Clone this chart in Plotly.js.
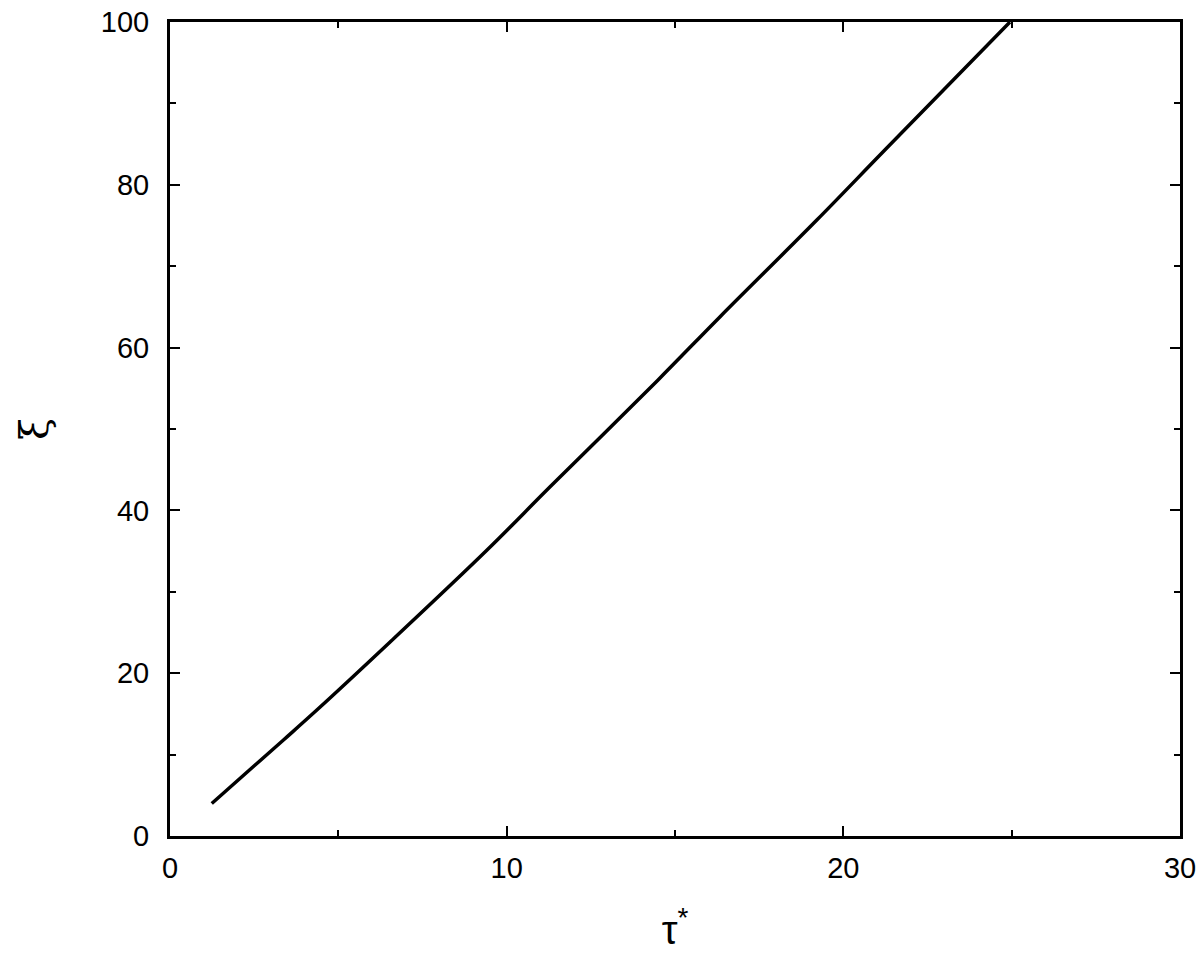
<!DOCTYPE html>
<html>
<head>
<meta charset="utf-8">
<script src="https://cdn.plot.ly/plotly-3.0.1.min.js"></script>
<style>
  html, body { margin: 0; padding: 0; background: #fff; }
  #chart { width: 1200px; height: 965px; }
</style>
</head>
<body>
<div id="chart"></div>
<script>
// values
const tauStar = [1.24, 3.37, 4.37, 6.53, 9.41, 11.29, 14.49, 16.34, 19.22, 21.24, 24.95];
const xi = [4.0, 11.8, 15.5, 23.8, 35.1, 42.9, 56.0, 63.8, 75.7, 84.3, 100];

const xTicks = [0, 10, 20, 30];
const yTicks = [0, 20, 40, 60, 80, 100];

const axisFont = { family: 'Liberation Sans, Arial, sans-serif', size: 29, color: '#000' };

const trace = {
    x: tauStar,
    y: xi,
    type: 'scatter',
    mode: 'lines',
    line: { color: '#000', width: 3.5, shape: 'spline', smoothing: 1 },
    hoverinfo: 'skip'
};

const commonAxis = {
    showgrid: false,
    zeroline: false,
    showline: true,
    linecolor: '#000',
    linewidth: 3,
    mirror: 'ticks',
    ticks: 'inside',
    ticklen: 10,
    tickwidth: 2,
    tickcolor: '#000',
    tickfont: axisFont,
    tickmode: 'array'
};

const layout = {
    width: 1200,
    height: 965,
    margin: { l: 170, r: 20, t: 22, b: 129 },
    paper_bgcolor: '#fff',
    plot_bgcolor: '#fff',
    showlegend: false,
    xaxis: Object.assign({}, commonAxis, {
        range: [0, 30],
        tickvals: xTicks,
        ticktext: xTicks.map(String),
        ticklabelstandoff: 4,
        minor: { dtick: 5, tick0: 0, ticks: 'inside', ticklen: 6, tickwidth: 2, tickcolor: '#000' },
        title: {
            text: 'τ<sup>*</sup>',
            font: { family: 'Liberation Sans, Arial, sans-serif', size: 40, color: '#000' },
            standoff: 34
        }
    }),
    yaxis: Object.assign({}, commonAxis, {
        range: [0, 100],
        tickvals: yTicks,
        ticktext: yTicks.map(String),
        ticklabelstandoff: 12,
        minor: { dtick: 10, tick0: 0, ticks: 'inside', ticklen: 6, tickwidth: 2, tickcolor: '#000' },
        title: {
            text: 'ξ',
            font: { family: 'DejaVu Serif, serif', size: 40, color: '#000' },
            standoff: 40
        }
    })
};

Plotly.newPlot('chart', [trace], layout, { displayModeBar: false, staticPlot: true });
</script>
</body>
</html>
